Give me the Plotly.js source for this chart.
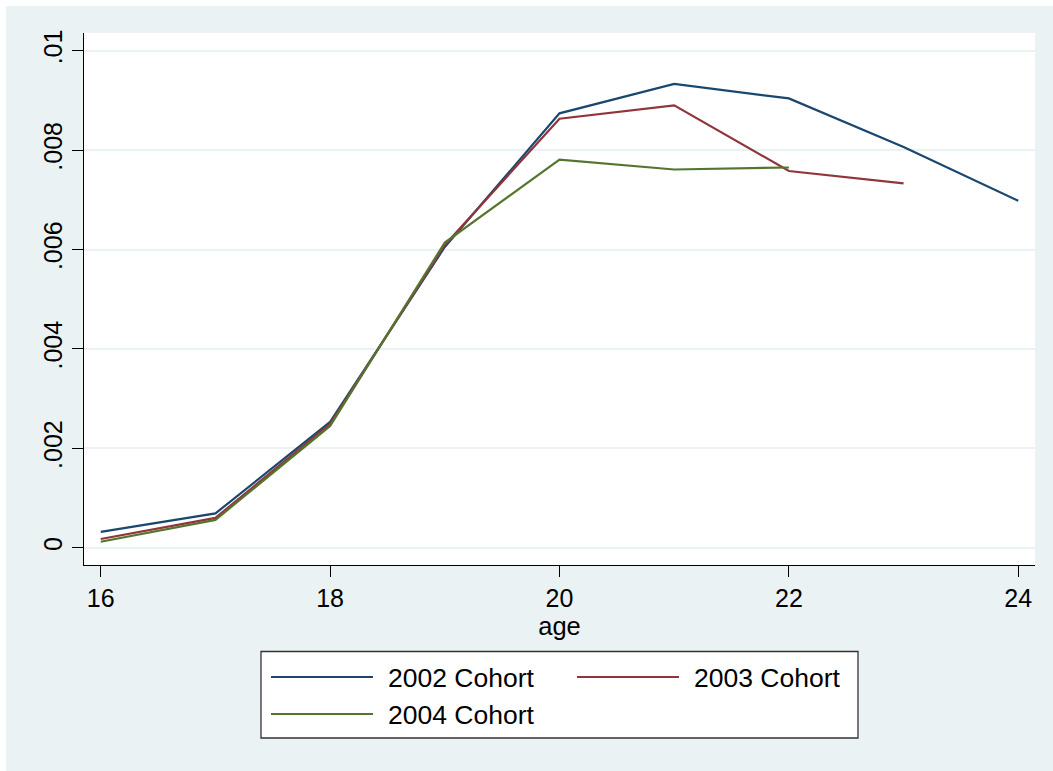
<!DOCTYPE html>
<html>
<head>
<meta charset="utf-8">
<script src="https://cdn.plot.ly/plotly-3.0.1.min.js"></script>
<style>
  html, body { margin: 0; padding: 0; background: #ffffff; }
  #chart { position: absolute; left: 6px; top: 6px; width: 1047px; height: 765px; }
</style>
</head>
<body>
<div id="chart"></div>
<script>
// Age of the cohort members
const ages = [16, 17, 18, 19, 20, 21, 22, 23, 24];

// Rate by age for each entry cohort
const cohort2002 = [0.00032, 0.00069, 0.00253, 0.00605, 0.00874, 0.00933, 0.00904, 0.00806, 0.00698];
const cohort2003 = [0.000175, 0.00060, 0.00249, 0.00609, 0.00863, 0.00890, 0.00758, 0.00733];
const cohort2004 = [0.00012, 0.00056, 0.00245, 0.00614, 0.00781, 0.00761, 0.00765];

const seriesNames = ['2002 Cohort', '2003 Cohort', '2004 Cohort'];
const seriesValues = [cohort2002, cohort2003, cohort2004];
const seriesColors = ['#1a476f', '#90353b', '#55752f'];

const xTickVals = [16, 18, 20, 22, 24];
const yTickVals = [0, 0.002, 0.004, 0.006, 0.008, 0.01];
const yTickText = ['0', '.002', '.004', '.006', '.008', '.01'];

const W = 1047, H = 765;
const M = { l: 78, r: 18, t: 27, b: 206 };
const plotW = W - M.l - M.r;
const plotH = H - M.t - M.b;

// pixel position inside the figure -> paper coordinates
const px = d => (d - M.l) / plotW;
const py = d => (H - M.b - d) / plotH;

const traces = seriesValues.map((vals, i) => ({
  type: 'scatter',
  mode: 'lines',
  name: seriesNames[i],
  x: ages.slice(0, vals.length),
  y: vals,
  line: { color: seriesColors[i], width: 2.2 },
  showlegend: false,
  hoverinfo: 'x+y+name'
}));

// Legend box: two columns, second row holds the last cohort
const shapes = [{
  type: 'rect', xref: 'paper', yref: 'paper',
  x0: px(255), x1: px(852), y0: py(645.5), y1: py(732),
  fillcolor: '#ffffff', line: { color: '#333333', width: 1.3 }, layer: 'above'
}];
const annotations = [];
const slots = [
  { x: 265, y: 671 },
  { x: 571, y: 671 },
  { x: 265, y: 708 }
];
seriesNames.forEach((name, i) => {
  const s = slots[i];
  shapes.push({
    type: 'line', xref: 'paper', yref: 'paper',
    x0: px(s.x), x1: px(s.x + 102), y0: py(s.y), y1: py(s.y),
    line: { color: seriesColors[i], width: 2.2 }, layer: 'above'
  });
  annotations.push({
    xref: 'paper', yref: 'paper',
    x: px(s.x + 115), y: py(s.y + 1),
    xanchor: 'left', yanchor: 'middle',
    text: name, showarrow: false,
    font: { family: 'Liberation Sans, Arial, sans-serif', size: 26.5, color: '#000000' }
  });
});

const layout = {
  width: W, height: H,
  margin: M,
  paper_bgcolor: '#eaf2f3',
  plot_bgcolor: '#ffffff',
  font: { family: 'Liberation Sans, Arial, sans-serif', color: '#000000' },
  showlegend: false,
  xaxis: {
    range: [15.854, 24.146],
    tickvals: xTickVals,
    ticks: 'outside', ticklen: 11, tickwidth: 1, tickcolor: '#000000',
    tickfont: { size: 25 },
    showline: true, linecolor: '#000000', linewidth: 1,
    showgrid: false, zeroline: false,
    title: { text: 'age', font: { size: 25.5 }, standoff: 1 }
  },
  yaxis: {
    range: [-0.000348, 0.010356],
    tickvals: yTickVals,
    ticktext: yTickText,
    tickangle: -90,
    ticks: 'outside', ticklen: 11, tickwidth: 1, tickcolor: '#000000',
    tickfont: { size: 25 },
    showline: true, linecolor: '#000000', linewidth: 1,
    showgrid: true, gridcolor: '#eaf2f3', gridwidth: 2,
    zeroline: false
  },
  shapes: shapes,
  annotations: annotations
};

Plotly.newPlot('chart', traces, layout, { displayModeBar: false, staticPlot: true });
</script>
</body>
</html>
